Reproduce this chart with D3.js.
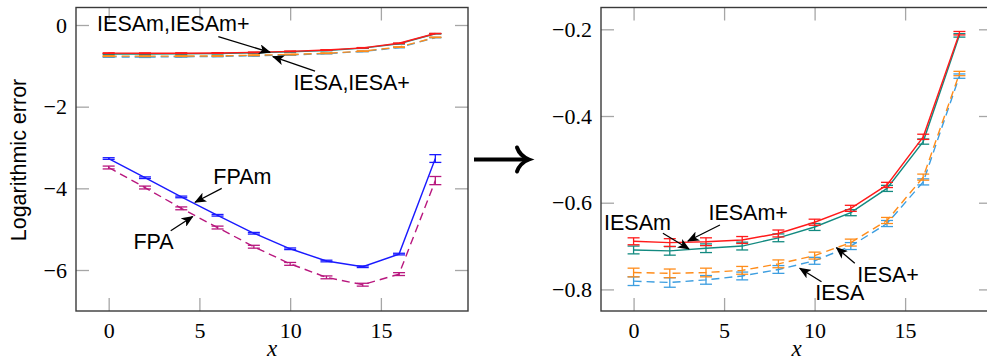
<!DOCTYPE html>
<html><head><meta charset="utf-8">
<script src="https://cdn.jsdelivr.net/npm/d3@7/dist/d3.min.js"></script>
<style>
html,body{margin:0;padding:0;background:#fff;}
svg{display:block;}
</style></head>
<body>
<svg id="chart" width="987" height="362"></svg>
<script>
// ---------- data ----------
const xs = [0, 2, 4, 6, 8, 10, 12, 14, 16, 18];

const iesamPlus    = [-0.689, -0.692, -0.690, -0.686, -0.671, -0.645, -0.613, -0.559, -0.448, -0.209];
const iesamPlusErr = [0.008, 0.009, 0.009, 0.008, 0.008, 0.007, 0.007, 0.006, 0.006, 0.004];
const iesam        = [-0.709, -0.711, -0.705, -0.700, -0.681, -0.656, -0.623, -0.567, -0.459, -0.214];
const iesamErr     = [0.009, 0.010, 0.010, 0.009, 0.009, 0.008, 0.007, 0.007, 0.006, 0.004];
const iesaPlus     = [-0.761, -0.763, -0.761, -0.756, -0.741, -0.722, -0.692, -0.641, -0.541, -0.302];
const iesaPlusErr  = [0.010, 0.010, 0.010, 0.009, 0.009, 0.008, 0.008, 0.007, 0.007, 0.005];
const iesa         = [-0.781, -0.784, -0.778, -0.769, -0.754, -0.734, -0.700, -0.648, -0.552, -0.308];
const iesaErr      = [0.010, 0.011, 0.010, 0.009, 0.009, 0.008, 0.008, 0.007, 0.007, 0.005];

const fpam    = [-3.27, -3.74, -4.21, -4.66, -5.10, -5.48, -5.78, -5.92, -5.61, -3.27];
const fpamErr = [0.02, 0.02, 0.02, 0.02, 0.02, 0.02, 0.02, 0.02, 0.02, 0.095];
const fpa     = [-3.49, -3.98, -4.49, -4.96, -5.43, -5.85, -6.18, -6.36, -6.10, -3.81];
const fpaErr  = [0.035, 0.035, 0.035, 0.035, 0.035, 0.035, 0.035, 0.035, 0.035, 0.1];

const xTicks      = [0, 5, 10, 15];
const leftYTicks  = [-6, -4, -2, 0];
const rightYTicks = [-0.8, -0.6, -0.4, -0.2];

const xLabel = "x";
const yLabel = "Logarithmic error";

// annotations: [text, textX, textY, arrowFromX, arrowFromY, arrowTipX, arrowTipY] (data coords)
const leftNotes = [
  ["IESAm,IESAm+", 3.56, 0.03, 6.04, -0.287, 8.89, -0.669],
  ["IESA,IESA+", 13.39, -1.42, 11.37, -1.127, 9.05, -0.776],
  ["FPAm", 7.37, -3.72, 6.23, -4.0, 4.76, -4.34],
  ["FPA", 2.47, -5.31, 3.42, -5.04, 4.63, -4.69]
];
const rightNotes = [
  ["IESAm", 0.215, -0.647, 1.62, -0.6706, 3.06, -0.7068],
  ["IESAm+", 6.33, -0.6238, 4.77, -0.6514, 3.0, -0.6883],
  ["IESA+", 14.06, -0.7668, 12.22, -0.7398, 11.21, -0.7038],
  ["IESA", 11.39, -0.8083, 10.38, -0.7822, 9.18, -0.7513]
];

// ---------- styles ----------
const C = {
  red: "#ff1a1a", teal: "#138a80", orange: "#ff8c1a", lblue: "#3d9ee0",
  blue: "#1a1aff", purple: "#b8177e"
};
const seriesIESA = [
  {y: iesa, e: iesaErr, color: C.lblue, dash: "8,5"},
  {y: iesaPlus, e: iesaPlusErr, color: C.orange, dash: "8,5"},
  {y: iesam, e: iesamErr, color: C.teal, dash: null},
  {y: iesamPlus, e: iesamPlusErr, color: C.red, dash: null}
];
const seriesFPA = [
  {y: fpa, e: fpaErr, color: C.purple, dash: "8,5"},
  {y: fpam, e: fpamErr, color: C.blue, dash: null}
];

const svg = d3.select("#chart");
const SANS = "'Liberation Sans', Arial, sans-serif";
const SERIF = "'Liberation Serif', 'DejaVu Serif', serif";

svg.append("defs").append("marker")
  .attr("id", "ah").attr("viewBox", "0 0 12 10").attr("refX", 11).attr("refY", 5)
  .attr("markerWidth", 12).attr("markerHeight", 10).attr("markerUnits", "userSpaceOnUse")
  .attr("orient", "auto")
  .append("path").attr("d", "M0,0 L12,5 L0,10 L3,5 Z").attr("fill", "#000");

function panel(cfg) {
  const x = d3.scaleLinear().domain([-1.8, 19.8]).range([cfg.x0, cfg.x1]);
  const y = d3.scaleLinear().domain(cfg.yDomain).range([cfg.y1, cfg.y0]);
  const g = svg.append("g");

  const fmt = cfg.fmt;
  const style = sel => {
    sel.attr("font-family", null).attr("font-size", null);
    sel.select(".domain").remove();
    sel.selectAll(".tick line").attr("stroke", "#a6a6a6").attr("stroke-width", 1.3);
    sel.selectAll(".tick text").attr("fill", "#000")
      .style("font-family", SERIF).style("font-size", "22px");
  };
  g.append("g").attr("transform", `translate(0,${cfg.y1})`)
    .call(d3.axisBottom(x).tickValues(xTicks).tickSize(-13).tickPadding(11).tickFormat(d3.format("d"))).call(style);
  g.append("g").attr("transform", `translate(0,${cfg.y0})`)
    .call(d3.axisTop(x).tickValues(xTicks).tickSize(-13).tickFormat("")).call(style);
  g.append("g").attr("transform", `translate(${cfg.x0},0)`)
    .call(d3.axisLeft(y).tickValues(cfg.yTicks).tickSize(-13).tickPadding(9).tickFormat(fmt)).call(style);
  g.append("g").attr("transform", `translate(${cfg.x1},0)`)
    .call(d3.axisRight(y).tickValues(cfg.yTicks).tickSize(-13).tickFormat("")).call(style);

  g.append("rect").attr("x", cfg.x0).attr("y", cfg.y0)
    .attr("width", cfg.x1 - cfg.x0).attr("height", cfg.y1 - cfg.y0)
    .attr("fill", "none").attr("stroke", "#3a3a3a").attr("stroke-width", 1.4);

  const line = d3.line().x((d, i) => x(xs[i])).y(d => y(d));
  cfg.series.forEach(s => {
    const sg = g.append("g");
    sg.append("path").attr("d", line(s.y)).attr("fill", "none")
      .attr("stroke", s.color).attr("stroke-width", 1.4)
      .attr("stroke-dasharray", s.dash);
    const eb = sg.selectAll("g.eb").data(s.y).join("g");
    eb.append("line").attr("x1", (d, i) => x(xs[i])).attr("x2", (d, i) => x(xs[i]))
      .attr("y1", (d, i) => y(d - s.e[i])).attr("y2", (d, i) => y(d + s.e[i]))
      .attr("stroke", s.color).attr("stroke-width", 1.3);
    [-1, 1].forEach(sgn => {
      eb.append("line").attr("x1", (d, i) => x(xs[i]) - 6).attr("x2", (d, i) => x(xs[i]) + 6)
        .attr("y1", (d, i) => y(d + sgn * s.e[i])).attr("y2", (d, i) => y(d + sgn * s.e[i]))
        .attr("stroke", s.color).attr("stroke-width", 1.3);
    });
  });

  cfg.notes.forEach(n => {
    g.append("line").attr("x1", x(n[3])).attr("y1", y(n[4]))
      .attr("x2", x(n[5])).attr("y2", y(n[6]))
      .attr("stroke", "#000").attr("stroke-width", 1.3).attr("marker-end", "url(#ah)");
    g.append("text").attr("x", x(n[1])).attr("y", y(n[2]))
      .attr("text-anchor", "middle").attr("dominant-baseline", "central")
      .style("font-family", SANS).style("font-size", "21.5px").text(n[0]);
  });

  g.append("text").attr("x", (cfg.x0 + cfg.x1) / 2).attr("y", 356)
    .attr("text-anchor", "middle")
    .style("font-family", SERIF).style("font-style", "italic").style("font-size", "23px").text(xLabel);
  return g;
}

panel({x0: 76, x1: 468, y0: 7.5, y1: 311, yDomain: [-7.004, 0.4286], yTicks: leftYTicks,
  fmt: d3.format("d"), series: seriesIESA.concat(seriesFPA), notes: leftNotes});
panel({x0: 601, x1: 992, y0: 7.5, y1: 311, yDomain: [-0.8498, -0.1497], yTicks: rightYTicks,
  fmt: d3.format(".1f"), series: seriesIESA, notes: rightNotes});

svg.append("text").attr("transform", "translate(19,160) rotate(-90)")
  .attr("text-anchor", "middle").attr("dominant-baseline", "central")
  .style("font-family", SANS).style("font-size", "21.5px").text(yLabel);

// big transition arrow between panels
svg.append("path").attr("d", "M474,159.5 H526").attr("stroke", "#000").attr("stroke-width", 4).attr("fill", "none");
svg.append("path").attr("d", "M517,147.5 Q520,156 529,159.5 Q520,163 517,171.5")
  .attr("stroke", "#000").attr("stroke-width", 4).attr("fill", "none").attr("stroke-linecap", "round");
</script>
</body></html>
